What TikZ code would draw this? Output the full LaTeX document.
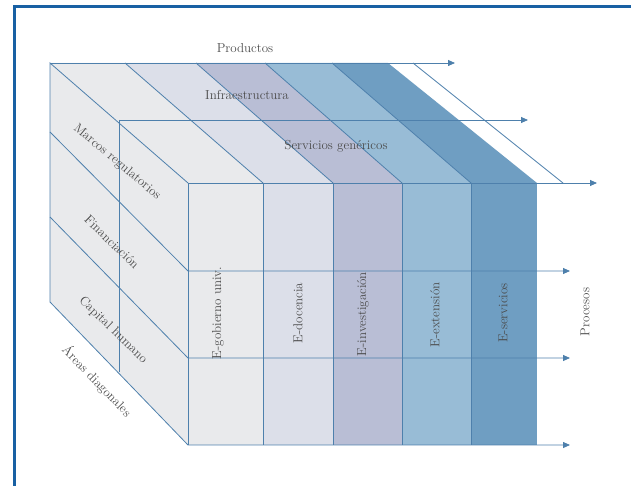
\documentclass[tikz,border=0pt]{standalone}
\usetikzlibrary{arrows.meta}
\definecolor{framecol}{RGB}{24,96,163}
\definecolor{edgecol}{RGB}{78,128,172}
\definecolor{txtcol}{RGB}{75,75,75}
\definecolor{bandA}{RGB}{233,234,236}
\definecolor{bandB}{RGB}{220,223,233}
\definecolor{bandC}{RGB}{185,190,213}
\definecolor{bandD}{RGB}{152,188,214}
\definecolor{bandE}{RGB}{111,158,194}
\begin{document}
\begin{tikzpicture}[x=1pt,y=-1pt,
  edge/.style={draw=edgecol,line width=0.8pt},
  flow/.style={draw=edgecol,line width=0.8pt,-{Triangle[length=7pt,width=6pt]}},
  lbl/.style={text=txtcol,font=\fontsize{13}{15}\selectfont,inner sep=0pt}]
\useasboundingbox (0,0) rectangle (631,486);
\draw[framecol,line width=3pt] (14,486) -- (14,7) -- (631,7);

% back edge of the top face
\coordinate (b0) at (50,63);
\coordinate (b1) at (125,63);
\coordinate (b2) at (196,63);
\coordinate (b3) at (265,63);
\coordinate (b4) at (332,63);
\coordinate (b5) at (388,63);
\coordinate (b6) at (413,63);
% front top edge
\coordinate (f0) at (188,183);
\coordinate (f1) at (263,183);
\coordinate (f2) at (333,183);
\coordinate (f3) at (402,183);
\coordinate (f4) at (471,183);
\coordinate (f5) at (537,183);
\coordinate (f6) at (563,183);
% front bottom edge
\coordinate (g0) at (188,445);
\coordinate (g1) at (263,445);
\coordinate (g2) at (333,445);
\coordinate (g3) at (402,445);
\coordinate (g4) at (471,445);
\coordinate (g5) at (537,445);
% left face
\coordinate (l0) at (50,302);
\coordinate (l1) at (50,132);
\coordinate (l2) at (50,217);
\coordinate (k1) at (188,271);
\coordinate (k2) at (188,358);
\coordinate (m0) at (119,120);
\coordinate (m1) at (119,372);
% arrow tips
\coordinate (tipP) at (455,63);
\coordinate (tipM) at (528,120);
\coordinate (tipF) at (597,183);
\coordinate (tip1) at (570,271);
\coordinate (tip2) at (570,358);
\coordinate (tip3) at (570,445);

% faces
\fill[bandA] (b0) -- (f0) -- (g0) -- (l0) -- cycle;
\fill[bandA] (b0) -- (b1) -- (f1) -- (f0) -- cycle;
\fill[bandB] (b1) -- (b2) -- (f2) -- (f1) -- cycle;
\fill[bandC] (b2) -- (b3) -- (f3) -- (f2) -- cycle;
\fill[bandD] (b3) -- (b4) -- (f4) -- (f3) -- cycle;
\fill[bandE] (b4) -- (b5) -- (f5) -- (f4) -- cycle;
\fill[bandA] (f0) rectangle (g1);
\fill[bandB] (f1) rectangle (g2);
\fill[bandC] (f2) rectangle (g3);
\fill[bandD] (f3) rectangle (g4);
\fill[bandE] (f4) rectangle (g5);

% edges
\draw[edge] (l0) -- (b0) -- (f0);
\draw[edge] (b1) -- (f1);
\draw[edge] (b2) -- (f2);
\draw[edge] (b3) -- (f3);
\draw[edge] (b4) -- (f4);
\draw[edge] (b6) -- (f6);
\draw[edge] (f0) -- (g0);
\draw[edge] (f1) -- (g1);
\draw[edge] (f2) -- (g2);
\draw[edge] (f3) -- (g3);
\draw[edge] (f4) -- (g4);
\draw[edge] (m0) -- (m1);

% flows
\draw[flow] (b0) -- (tipP);
\draw[flow] (m0) -- (tipM);
\draw[flow] (f0) -- (tipF);
\draw[flow] (l1) -- (k1) -- (tip1);
\draw[flow] (l2) -- (k2) -- (tip2);
\draw[flow] (l0) -- (g0) -- (tip3);

% labels
\node[lbl] (prod) at (245,48) {Productos};
\node[lbl] (infra) at (247,95) {Infraestructura};
\node[lbl] (serv) at (336,146) {Servicios genéricos};
\node[lbl,rotate=-40] (marcos) at (117,162) {Marcos regulatorios};
\node[lbl,rotate=-44] (finan) at (112,242) {Financiación};
\node[lbl,rotate=-44] (capital) at (113,330) {Capital humano};
\node[lbl,rotate=-46] (areas) at (97,381) {Áreas diagonales};
\node[lbl,rotate=90] (gob) at (218,313) {E-gobierno univ.};
\node[lbl,rotate=90] (doc) at (298,313) {E-docencia};
\node[lbl,rotate=90] (inv) at (363,314) {E-investigación};
\node[lbl,rotate=90] (ext) at (435,315) {E-extensión};
\node[lbl,rotate=90] (srv) at (503,313) {E-servicios};
\node[lbl,rotate=90] (proc) at (585,312) {Procesos};
\end{tikzpicture}
\end{document}
